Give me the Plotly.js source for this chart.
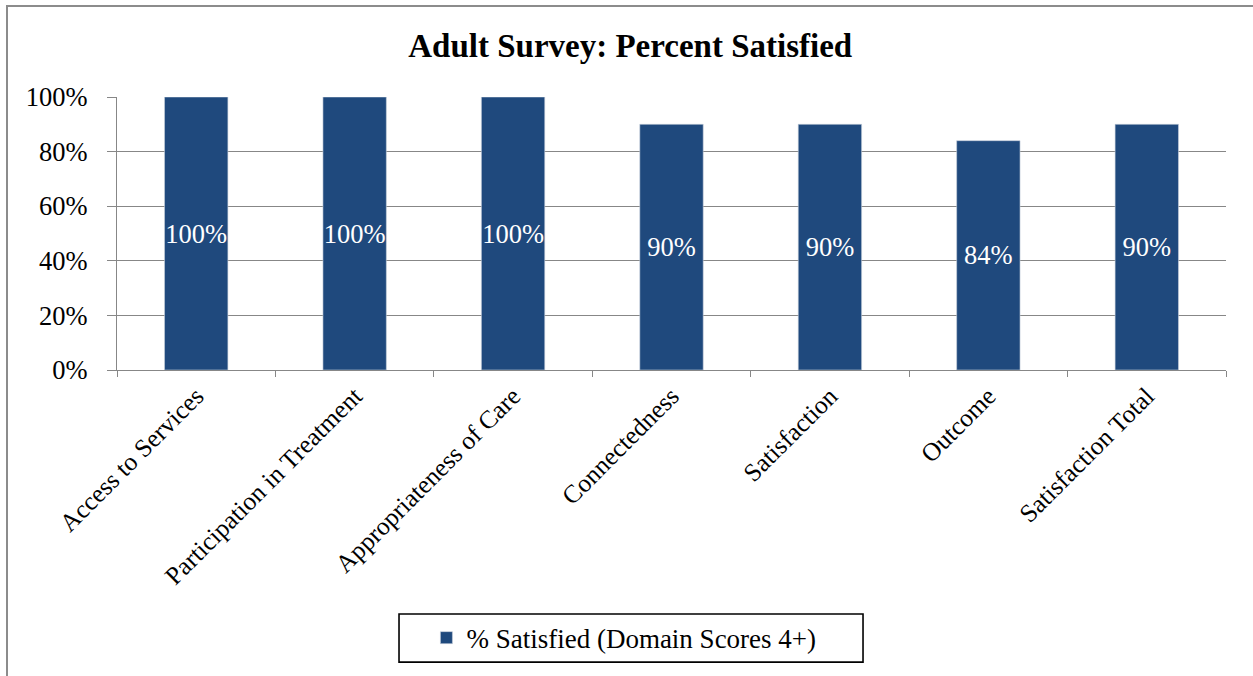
<!DOCTYPE html>
<html>
<head>
<meta charset="utf-8">
<script src="https://cdn.plot.ly/plotly-3.0.1.min.js"></script>
<style>
  html, body { margin: 0; padding: 0; background: #ffffff; }
  #wrap { position: relative; width: 1253px; height: 676px; overflow: hidden; }
  #frame { position: absolute; left: 6px; top: 5px; width: 1400px; height: 800px;
           border-left: 2px solid #8c8c8c; border-top: 2px solid #8c8c8c; }
  #chart { position: absolute; left: 0; top: 0; width: 1253px; height: 676px; }
</style>
</head>
<body>
<div id="wrap">
  <div id="frame"></div>
  <div id="chart"></div>
</div>
<script>
const categories = ["Access to Services", "Participation in Treatment", "Appropriateness of Care",
                    "Connectedness", "Satisfaction", "Outcome", "Satisfaction Total"];
const satisfied = [1.00, 1.00, 1.00, 0.90, 0.90, 0.84, 0.90];
const seriesName = "% Satisfied (Domain Scores 4+)";
const chartTitle = "Adult Survey: Percent Satisfied";
const yTickVals = [0, 0.2, 0.4, 0.6, 0.8, 1.0];

const FONT = "'Liberation Serif', 'Times New Roman', serif";
const GRID = "#878787";

const trace = {
  type: "bar",
  x: categories,
  y: satisfied,
  name: seriesName,
  marker: { color: "#1F497D", line: { color: "#c8d0dc", width: 0.6 } },
  texttemplate: "%{y:.0%}",
  textposition: "inside",
  insidetextanchor: "middle",
  constraintext: "none",
  textangle: 0,
  textfont: { family: FONT, size: 26.5, color: "#ffffff" },
  hoverinfo: "x+y",
  showlegend: true
};

const layout = {
  width: 1253,
  height: 676,
  paper_bgcolor: "rgba(0,0,0,0)",
  plot_bgcolor: "rgba(0,0,0,0)",
  margin: { l: 117, r: 27, t: 97, b: 306, autoexpand: false },
  bargap: 0.6,
  font: { family: FONT, size: 26.5, color: "#000000" },
  title: {
    text: "<b>" + chartTitle + "</b>",
    font: { family: FONT, size: 33, color: "#000000" },
    x: 0.503, xref: "container", xanchor: "center",
    y: 0.933, yref: "container", yanchor: "middle"
  },
  xaxis: {
    type: "category",
    showgrid: false,
    showline: true,
    linecolor: GRID,
    linewidth: 1.3,
    ticks: "outside",
    tickson: "boundaries",
    ticklen: 6,
    tickcolor: GRID,
    tickwidth: 1.3,
    tickangle: -45,
    tickfont: { family: FONT, size: 25.5, color: "#000000" },
    automargin: false
  },
  yaxis: {
    range: [0, 1],
    tickvals: yTickVals,
    tickformat: ".0%",
    showgrid: true,
    gridcolor: GRID,
    gridwidth: 1.3,
    zeroline: false,
    showline: true,
    linecolor: GRID,
    linewidth: 1.3,
    ticks: "outside",
    ticklen: 9,
    tickcolor: GRID,
    tickwidth: 1.3,
    ticklabelstandoff: 14,
    tickfont: { family: FONT, size: 26.5, color: "#000000" },
    automargin: false
  },
  showlegend: true,
  legend: {
    orientation: "h",
    x: 0.279, xanchor: "left",
    y: -0.982, yanchor: "middle",
    bgcolor: "rgba(0,0,0,0)",
    borderwidth: 0,
    font: { family: FONT, size: 27, color: "#000000" }
  },
  shapes: [{
    type: "rect", xref: "paper", yref: "paper",
    x0: 0.2543, x1: 0.6727, y0: -1.070, y1: -0.894,
    line: { color: "#000000", width: 1.6 },
    fillcolor: "rgba(0,0,0,0)",
    layer: "below"
  }]
};

Plotly.newPlot("chart", [trace], layout, { displayModeBar: false, responsive: false });
</script>
</body>
</html>
